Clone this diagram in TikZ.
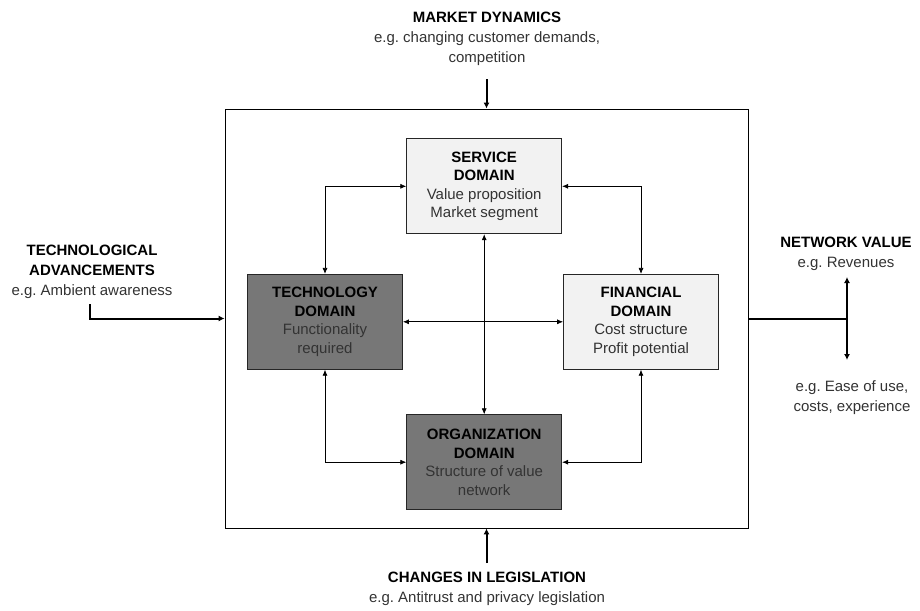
\documentclass[tikz,border=0pt]{standalone}
\usepackage{fontspec}
\setmainfont{Liberation Sans}
\usetikzlibrary{arrows.meta}
\definecolor{darkfill}{HTML}{777777}
\definecolor{lightfill}{HTML}{F2F2F2}
\definecolor{bodytext}{HTML}{333333}
\frenchspacing
\begin{document}
\begin{tikzpicture}[x=1pt,y=-1pt,
  domainbox/.style={draw=black!85, line width=0.8pt, minimum width=155pt, minimum height=95pt,
    align=center, inner sep=0pt, font=\fontsize{15}{18.5}\selectfont\frenchspacing},
  darkbox/.style={domainbox, fill=darkfill},
  lightbox/.style={domainbox, fill=lightfill},
  link/.style={line width=0.7pt, {Latex[length=6pt,width=5pt]}-{Latex[length=6pt,width=5pt]}},
  force/.style={line width=2pt, -{Latex[length=6pt,width=6pt]}},
  plainforce/.style={line width=2pt},
  biforce/.style={line width=2pt, {Latex[length=6pt,width=6pt]}-{Latex[length=6pt,width=6pt]}},
  extlabel/.style={align=center, inner sep=0pt, anchor=north, font=\fontsize{15}{20}\selectfont\frenchspacing, text=bodytext}]
\useasboundingbox (0,0) rectangle (920,610);

% outer frame
\node[draw=black, line width=0.8pt, minimum width=523pt, minimum height=419pt, inner sep=0pt] (outer) at (486.5,318.5) {};

% domains
\node[lightbox] (svc) at (484.2,186.3) {\textbf{SERVICE}\\\textbf{DOMAIN}\\\textcolor{bodytext}{Value proposition}\\\textcolor{bodytext}{Market segment}};
\node[darkbox] (tech) at (325,321.8) {\textbf{TECHNOLOGY}\\\textbf{DOMAIN}\\\textcolor{bodytext}{Functionality}\\\textcolor{bodytext}{required}};
\node[lightbox] (fin) at (641,321.8) {\textbf{FINANCIAL}\\\textbf{DOMAIN}\\\textcolor{bodytext}{Cost structure}\\\textcolor{bodytext}{Profit potential}};
\node[darkbox] (org) at (484.2,462.2) {\textbf{ORGANIZATION}\\\textbf{DOMAIN}\\\textcolor{bodytext}{Structure of value}\\\textcolor{bodytext}{network}};

% links between domains
\draw[link] (svc.west) -| (tech.north);
\draw[link] (svc.east) -| (fin.north);
\draw[link] (org.west) -| (tech.south);
\draw[link] (org.east) -| (fin.south);
\draw[link] (tech.east) -- (fin.west);
\draw[link] (svc.south) -- (org.north);

% external labels
\node[extlabel] (mkt) at (487,12) {\textcolor{black}{\textbf{MARKET DYNAMICS}}\\e.g. changing customer demands,\\competition};
\node[extlabel] (techadv) at (92,245) {\textcolor{black}{\textbf{TECHNOLOGICAL}}\\\textcolor{black}{\textbf{ADVANCEMENTS}}\\e.g. Ambient awareness};
\node[extlabel] (nv) at (846,237) {\textcolor{black}{\textbf{NETWORK VALUE}}\\e.g. Revenues};
\node[extlabel] (ease) at (852,380) {e.g. Ease of use,\\costs, experience};
\node[extlabel] (leg) at (487,572) {\textcolor{black}{\textbf{CHANGES IN LEGISLATION}}\\e.g. Antitrust and privacy legislation};

% external forces
\coordinate (mtop) at (486.5,79);
\coordinate (ltop) at (486.5,563);
\coordinate (tstart) at (90,304);
\coordinate (nvjoin) at (847,318.5);
\coordinate (nvup) at (847,277);
\coordinate (nvdown) at (847,360);
\draw[force] (mtop) -- (outer.north);
\draw[force] (ltop) -- (outer.south);
\draw[force] (tstart) |- (outer.west);
\draw[plainforce] (outer.east) -- (nvjoin);
\draw[biforce] (nvup) -- (nvdown);
\end{tikzpicture}
\end{document}
